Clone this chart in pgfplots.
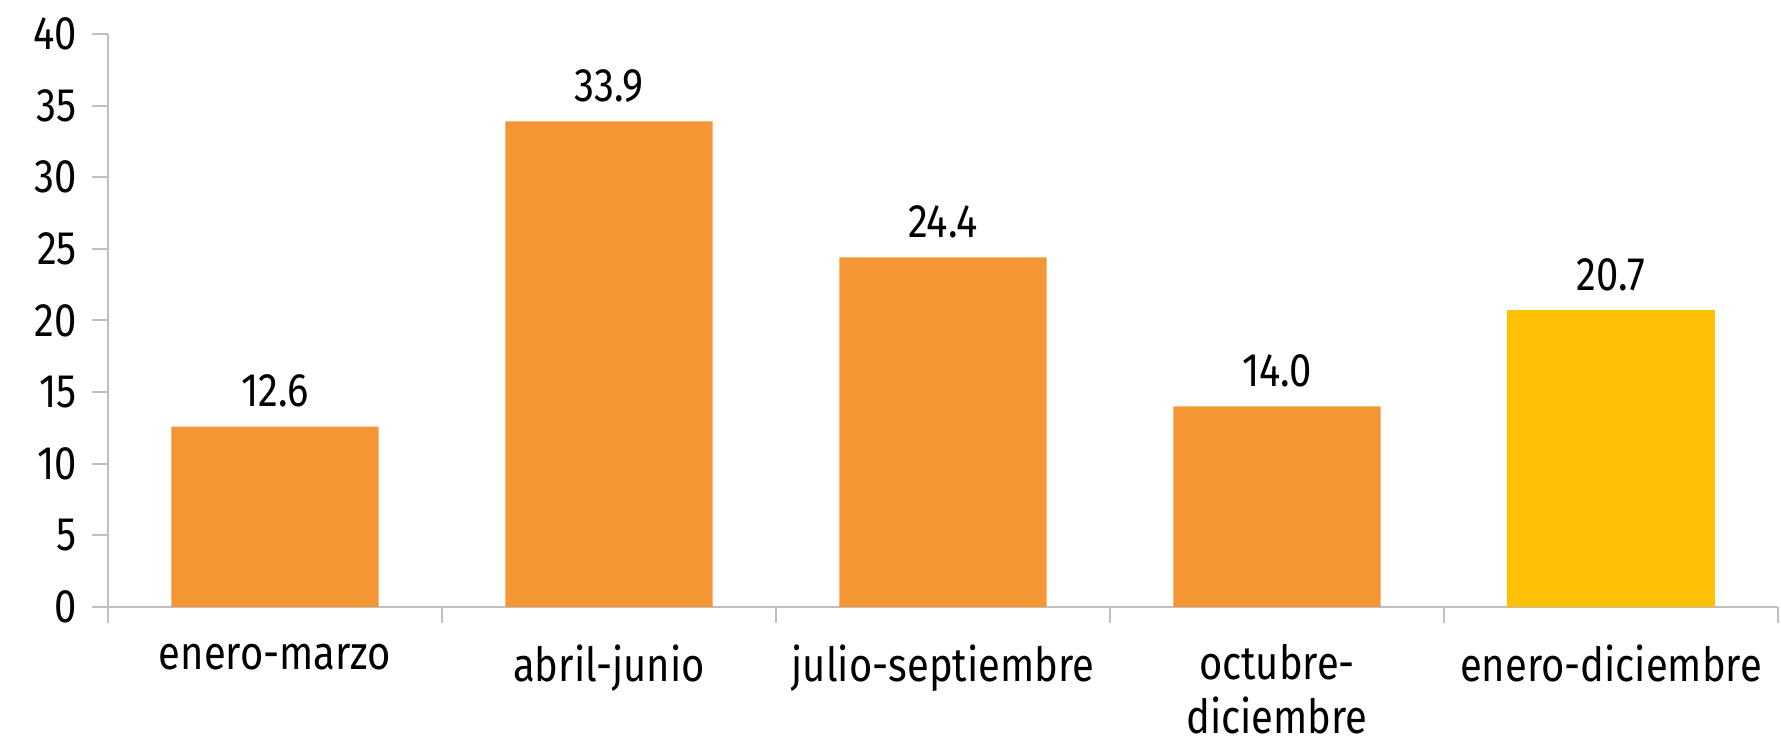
\documentclass[border=0pt]{standalone}
\usepackage{fontspec}
\setmainfont{Fira Sans}[FakeStretch=0.85]
\usepackage{pgfplots}
\pgfplotsset{compat=1.18}
\definecolor{barorange}{HTML}{F59634}
\definecolor{baryellow}{HTML}{FDC003}
\definecolor{axgray}{HTML}{BFBFBF}
\begin{document}
\begin{tikzpicture}[x=1pt,y=1pt]
\path[use as bounding box] (0,0) rectangle (890.5,374.5);
\begin{axis}[
  at={(54pt,71pt)}, anchor=south west,
  scale only axis, width=835pt, height=286.5pt,
  xmin=-0.5, xmax=4.5, ymin=0, ymax=40,
  ytick={0,5,...,40},
  xtick={0,1,2,3,4},
  xticklabels={enero-marzo,abril-junio,julio-septiembre,octubre-\\diciembre,enero-diciembre},
  minor xtick={-0.5,0.5,1.5,2.5,3.5,4.5},
  major x tick style={draw=none},
  tick align=outside,
  major tick length=8pt, minor tick length=8pt,
  tick style={draw=axgray, line width=1pt},
  axis x line*=bottom, axis y line*=left,
  axis line style={draw=axgray, line width=1pt, -},
  /pgf/number format/assume math mode=true,
  tick label style={font=\fontsize{23.5}{28}\selectfont, text=black},
  xticklabel style={align=center, yshift=-9.5pt, inner sep=1pt, font=\fontsize{23.5}{27}\selectfont},
  yticklabel style={xshift=-4pt},
  ybar, bar width=0.62,
  nodes near coords,
  nodes near coords style={font=\fontsize{23.5}{28}\selectfont, anchor=south, yshift=6pt,
    /pgf/number format/.cd, fixed, precision=1, zerofill},
  clip=false,
]
\addplot[fill=barorange, draw=none, bar shift=0pt] coordinates {(0,12.6) (1,33.9) (2,24.4) (3,14.0)};
\addplot[fill=baryellow, draw=none, bar shift=0pt] coordinates {(4,20.7)};
\end{axis}
\end{tikzpicture}
\end{document}
